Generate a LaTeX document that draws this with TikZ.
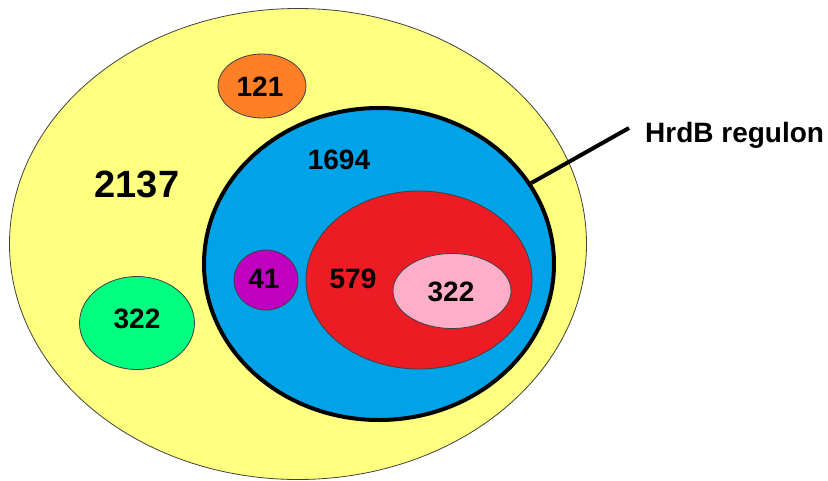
\documentclass[tikz,border=0pt]{standalone}
\usepackage{fontspec}
\setmainfont{Liberation Sans}
\usetikzlibrary{shapes.geometric}
\definecolor{cyellow}{RGB}{255,255,128}
\definecolor{corange}{RGB}{255,127,39}
\definecolor{cblue}{RGB}{0,162,232}
\definecolor{cred}{RGB}{237,28,36}
\definecolor{cpink}{RGB}{255,174,201}
\definecolor{cmagenta}{RGB}{192,0,192}
\definecolor{cgreen}{RGB}{0,255,128}
\begin{document}
\begin{tikzpicture}[x=1pt,y=-1pt,
  blob/.style={ellipse, draw=black!75, line width=0.8pt, inner sep=0pt},
  num/.style={font=\bfseries\fontsize{28}{30}\selectfont, inner sep=0pt},
  bignum/.style={font=\bfseries\fontsize{38}{40}\selectfont, inner sep=0pt}]
\useasboundingbox (0,0) rectangle (828,480);
\node[blob, fill=cyellow, minimum width=577pt, minimum height=471pt] (all) at (298,244) {};
\node[blob, fill=corange, minimum width=88pt, minimum height=64pt] (orange) at (262,86) {};
\node[blob, fill=cgreen, minimum width=115pt, minimum height=93pt] (green) at (137,323) {};
\node[ellipse, draw=black, line width=4pt, fill=cblue, inner sep=0pt, minimum width=350pt, minimum height=312pt] (blue) at (379,264) {};
\node[blob, fill=cred, minimum width=226pt, minimum height=178pt] (red) at (419,280) {};
\node[blob, fill=cpink, minimum width=118pt, minimum height=75pt] (pink) at (452,291) {};
\node[blob, fill=cmagenta, minimum width=64pt, minimum height=60pt] (magenta) at (266,280) {};
\node[bignum] (t2137) at (137,184) {2137};
\node[num] (t121) at (260,87) {121};
\node[num] (t1694) at (339,160) {1694};
\node[num] (t41) at (264,279) {41};
\node[num] (t579) at (353,279) {579};
\node[num] (t322a) at (451,292) {322};
\node[num] (t322b) at (137,319) {322};
\node[font=\bfseries\fontsize{28}{30}\selectfont, inner sep=0pt, anchor=base west] (label) at (645,142) {HrdB regulon};
\coordinate (lineend) at (629,128);
\draw[line width=4pt] (blue.28.7) -- (lineend);
\end{tikzpicture}
\end{document}
